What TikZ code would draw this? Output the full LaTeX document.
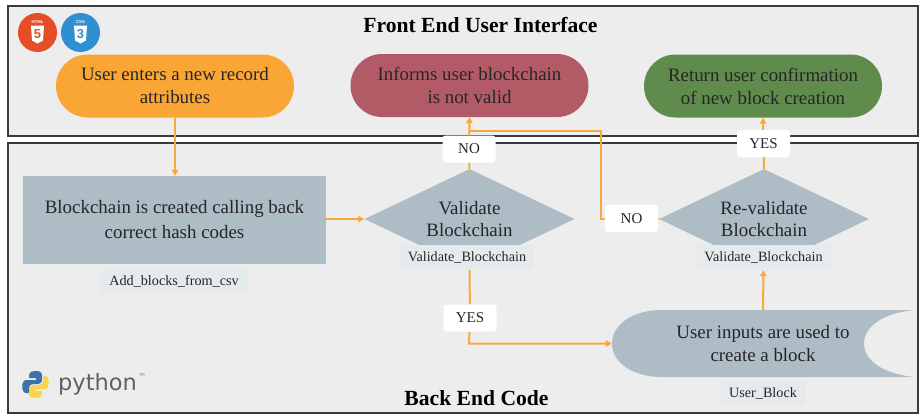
\documentclass[tikz,border=0pt]{standalone}
\usepackage{fontspec}
\setmainfont{Liberation Serif}
\newfontfamily\logofont{DejaVu Sans}
\newfontfamily\tagfont{Liberation Sans}
\usetikzlibrary{shapes.geometric,shapes.misc,arrows.meta}
\definecolor{panelbg}{HTML}{EDEDED}
\definecolor{panelline}{HTML}{3A3A3A}
\definecolor{flow}{HTML}{F7A93B}
\definecolor{orangefill}{HTML}{F9A636}
\definecolor{redfill}{HTML}{B25B66}
\definecolor{greenfill}{HTML}{5F8B4C}
\definecolor{slate}{HTML}{AEBCC6}
\definecolor{tagbg}{HTML}{E5EAED}
\definecolor{ink}{HTML}{262626}
\definecolor{htmlred}{HTML}{E44D26}
\definecolor{cssblue}{HTML}{2F8FD3}
\definecolor{pyblue}{HTML}{3A74A8}
\definecolor{pyyellow}{HTML}{FBD44C}
\pgfdeclarelayer{panels}
\pgfdeclarelayer{edges}
\pgfsetlayers{panels,edges,main}
\tikzset{
  x=1pt,y=-1pt,
  panel/.style={draw=panelline,line width=1.8pt,fill=panelbg},
  pill/.style={rounded rectangle,minimum width=238pt,minimum height=63pt,inner sep=0pt,align=center,text=ink,font=\fontsize{18.9}{23}\selectfont},
  flowbox/.style={rectangle,fill=slate,inner sep=0pt,align=center,text=ink,font=\fontsize{18.9}{25}\selectfont},
  decision/.style={diamond,aspect=2.1,fill=slate,minimum width=210pt,minimum height=100pt,inner sep=0pt,align=center,text=ink,font=\fontsize{18.9}{22}\selectfont},
  answer/.style={fill=white,rounded corners=3pt,minimum width=53pt,minimum height=27pt,inner sep=0pt,text=ink,font=\fontsize{15}{16}\selectfont},
  codetag/.style={fill=tagbg,minimum height=25pt,inner sep=0pt,text=ink,font=\fontsize{14.2}{15}\selectfont},
  flowline/.style={draw=flow,line width=2pt},
  flowarrow/.style={flowline,-{Triangle[length=6pt,width=6.5pt]}},
  heading/.style={font=\fontsize{21.6}{24}\selectfont\bfseries,text=black},
  badgefig/.style={inner sep=0pt,font=\fontsize{13}{13}\selectfont\tagfont\bfseries},
  badgetag/.style={inner sep=0pt,text=white,font=\fontsize{4.2}{4.2}\selectfont\tagfont\bfseries},
}
\begin{document}
\begin{tikzpicture}
\useasboundingbox (0,0) rectangle (920,415);
\begin{pgfonlayer}{panels}
  \path[panel] (8,6) rectangle (918,136);
  \path[panel] (8,143) rectangle (918,413);
\end{pgfonlayer}

% titles
\node[heading] (t1) at (480.5,25) {Front End User Interface};
\node[heading] (t2) at (476.5,398) {Back End Code};

% main shapes
\node[pill,fill=orangefill] (enter) at (175,86) {User enters a new record\\attributes};
\node[pill,fill=redfill] (bad) at (469.5,85.5) {Informs user blockchain\\is not valid};
\node[pill,fill=greenfill] (ok) at (763,86) {Return user confirmation\\of new block creation};
\node[flowbox,minimum width=303pt,minimum height=88pt] (chain) at (174.5,220) {Blockchain is created calling back\\correct hash codes};
\node[decision] (val) at (469.5,219) {Validate\\Blockchain};
\node[decision] (reval) at (764,219) {Re-validate\\Blockchain};

% stored-data shape
\fill[slate] (914,310) -- (662,310) .. controls (632,310) and (612,325) .. (612,343.5)
  .. controls (612,362) and (632,377) .. (662,377) -- (914,377)
  .. controls (884,374) and (864,361) .. (864,343.5)
  .. controls (864,326) and (884,313) .. (914,310) -- cycle;
\node[rectangle,minimum width=302pt,minimum height=67pt,inner sep=0pt,align=center,text=ink,font=\fontsize{18.9}{23}\selectfont] (user) at (763,343.5) {User inputs are used to\\create a block};

% tags
\node[codetag,minimum width=148pt] (tag1) at (174,281) {Add\_blocks\_from\_csv};
\node[codetag,minimum width=134pt] (tag2) at (467,257.5) {Validate\_Blockchain};
\node[codetag,minimum width=134pt] (tag3) at (763.5,257.5) {Validate\_Blockchain};
\node[codetag,minimum width=85pt] (tag4) at (763,393) {User\_Block};

% answers
\node[answer] (no1) at (469,149) {NO};
\node[answer] (no2) at (631.5,218.5) {NO};
\node[answer] (yes1) at (763.5,143.5) {YES};
\node[answer] (yes2) at (470,318) {YES};

% connectors
\coordinate (merge) at (469,130.5);
\coordinate (turn) at (469,343.5);
\begin{pgfonlayer}{edges}
  \draw[flowarrow] (enter.south) -- (chain.north -| enter.south);
  \draw[flowarrow] (chain.east |- val.west) -- (val.west);
  \draw[flowarrow] (val.north) -- (no1) -- (bad.south);
  \draw[flowline] (reval.west) -- (no2);
  \draw[flowline] (no2) -- (600.5,218.5) -- (600.5,130.5) -- (merge);
  \draw[flowarrow] (reval.north) -- (yes1) -- (ok.south);
  \draw[flowline] (val.south) -- (yes2);
  \draw[flowarrow] (yes2) -- (turn) -- (user.west);
  \draw[flowarrow] (user.north) -- (tag3.south);
\end{pgfonlayer}

% HTML5 badge
\fill[htmlred] (37.5,32.5) circle (19.5);
\fill[white] (31,25.5) -- (44,25.5) -- (43,40.5) -- (37.5,43.5) -- (32,40.5) -- cycle;
\node[badgetag] (htmlt) at (37.5,22.5) {HTML};
\node[badgefig,text=htmlred] (five) at (37.5,34) {5};
% CSS3 badge
\fill[cssblue] (80.5,32.5) circle (19.5);
\fill[white] (74,25.5) -- (87,25.5) -- (86,40.5) -- (80.5,43.5) -- (75,40.5) -- cycle;
\node[badgetag] (csst) at (80.5,22.5) {CSS};
\node[badgefig,text=cssblue] (three) at (80.5,34) {3};

% Python logo
\fill[pyblue] (35.5,371) .. controls (29,371) and (29,374) .. (29,378) -- (36,378) -- (36,380) -- (26,380)
  .. controls (21,380) and (21,393) .. (26,393) -- (29,393) -- (29,388)
  .. controls (29,385) and (31,384) .. (34,384) -- (38,384)
  .. controls (41,384) and (42,382) .. (42,380) -- (42,376) .. controls (42,372) and (40,371) .. (35.5,371) -- cycle;
\fill[pyyellow] (35.5,398) .. controls (42,398) and (42,395) .. (42,391) -- (35,391) -- (35,389) -- (45,389)
  .. controls (50,389) and (50,376) .. (45,376) -- (43,376) -- (43,381)
  .. controls (43,384) and (41,385) .. (38,385) -- (33,385)
  .. controls (30,385) and (29,387) .. (29,389) -- (29,393) .. controls (29,397) and (31,398) .. (35.5,398) -- cycle;
\node[inner sep=0pt,text=black!62,font=\fontsize{22.5}{24}\selectfont\logofont] (py) at (97.5,384) {python};
\node[inner sep=0pt,text=black!50,font=\fontsize{4}{4}\selectfont\logofont] (tm) at (142,375) {TM};
\end{tikzpicture}
\end{document}
